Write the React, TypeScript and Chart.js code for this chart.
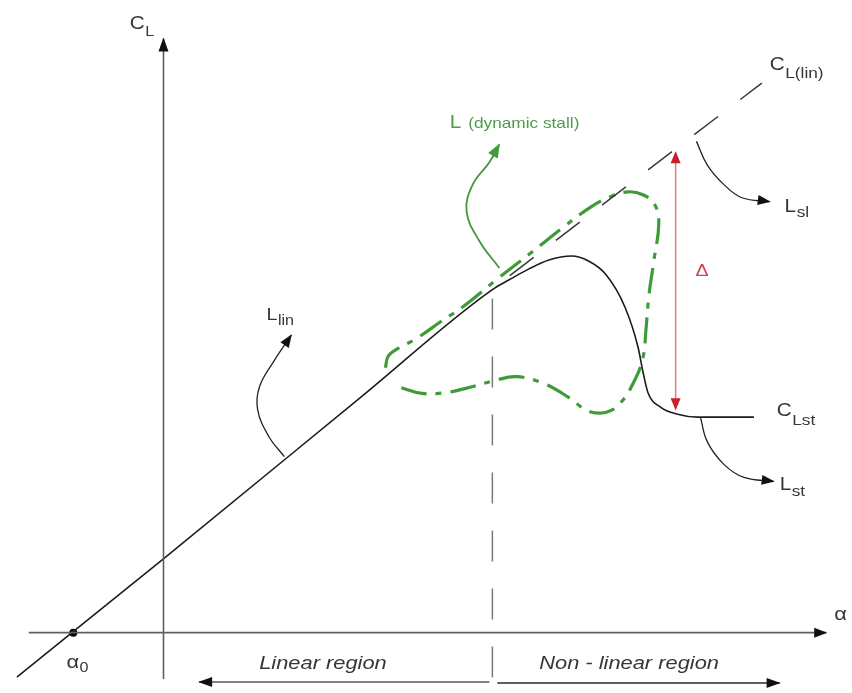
import { useEffect, useRef } from 'react';
import { Chart, registerables } from 'chart.js';

Chart.register(...registerables);

// ---- Diagram data (alpha = angle of attack, CL = lift coefficient, arbitrary units) ----
const xAxisAlpha = [-13.5, 67];
const xAxisCL = [0, 0];
const yAxisAlpha = [0.1, 0.1];
const yAxisCL = [-4.7, 60.1];

// zero-lift angle
const alphaZero = -9;

// static lift curve: linear part, then stall
const liftAlpha = [-14.7, 0, 20, 33.3, 35, 37, 39, 41.3, 43, 44.7, 46.7, 48, 48.5, 49, 50.3, 52, 54, 59.7];
const liftCL = [-4.5, 7.4, 23.8, 34.7, 35.7, 36.8, 37.7, 38.1, 37.6, 36.3, 32.9, 28.9, 26.4, 24.3, 22.8, 22.1, 21.8, 21.8];

// extrapolated linear lift C_L(lin)
const linExtAlpha = [34.5, 60.5];
const linExtCL = [35.7, 55.6];

// boundary between linear and non-linear regions
const dividerAlpha = [33.3, 33.3];
const dividerCL = [33.8, -4.7];

// dynamic stall hysteresis loop
const stallAlpha = [22.5, 22.8, 23.7, 25.7, 28.0, 30.5, 33.7, 37.3, 40.3, 43.3, 45.2, 47.0, 48.5, 49.7, 50.1, 49.6, 49.1, 48.8, 48.5, 47.6, 46.2, 44.8, 43.0, 41.0, 38.5, 35.7, 33.5, 31.3, 28.7, 26.2, 24.0];
const stallCL = [26.8, 28.0, 28.7, 29.8, 31.4, 33.1, 35.7, 38.5, 40.9, 43.1, 44.1, 44.6, 44.3, 43.3, 41.4, 37.6, 34.1, 30.6, 27.8, 25.4, 23.2, 22.3, 22.4, 23.8, 25.2, 25.9, 25.5, 24.9, 24.3, 24.2, 24.8];

// lift deficit Δ between C_L(lin) and C_Lst
const deltaAlpha = [51.8, 51.8];
const deltaCL = [22.6, 48.6];

// leader arrows
const linLeaderAlpha = [12.3, 10.7, 9.6, 9.8, 11.2, 13.0];
const linLeaderCL = [17.8, 19.9, 22.6, 24.9, 27.4, 30.1];
const slLeaderAlpha = [53.9, 55.0, 56.7, 58.5, 61.3];
const slLeaderCL = [49.7, 47.3, 45.3, 44.0, 43.6];
const stLeaderAlpha = [54.3, 55.0, 56.7, 58.7, 61.7];
const stLeaderCL = [21.8, 19.3, 17.0, 15.7, 15.3];
const dynLeaderAlpha = [34.0, 32.0, 30.7, 31.3, 33.0, 34.0];
const dynLeaderCL = [36.9, 39.6, 42.6, 45.3, 47.6, 49.4];

// region arrows under the axis
const linearRegionAlpha = [33, 3.7];
const linearRegionCL = [-5.0, -5.0];
const nonLinearRegionAlpha = [33.8, 62.3];
const nonLinearRegionCL = [-5.1, -5.1];

const FONT = '"Liberation Sans", Arial, Helvetica, sans-serif';
const INK = '#363636';
const GREEN = '#3f9b37';
// glyphs are drawn slightly wide
const TEXT_STRETCH = 1.15;

type Label = {
  text: string;
  sub?: string;
  alpha: number;
  cl: number;
  size: number;
  subSize?: number;
  subDrop?: number;
  subGap?: number;
  color?: string;
  italic?: boolean;
  center?: boolean;
};

const labels: Label[] = [
  { text: 'C', sub: 'L', alpha: -3.3, cl: 61.1, size: 18, subSize: 14, subDrop: 7 },
  { text: 'α', alpha: 67.8, cl: 1.3, size: 19 },
  { text: 'α', sub: '0', alpha: -9.7, cl: -3.6, size: 19, subSize: 14, subDrop: 4 },
  { text: 'Linear region', alpha: 16.2, cl: -3.7, size: 19, italic: true, center: true },
  { text: 'Non - linear region', alpha: 47.1, cl: -3.7, size: 19, italic: true, center: true },
  { text: 'L', sub: '(dynamic stall)', alpha: 29, cl: 51.1, size: 18, subSize: 15, subDrop: 0, subGap: 6, color: '#4c9e46' },
  { text: 'L', sub: 'lin', alpha: 10.5, cl: 31.6, size: 17, subSize: 14, subDrop: 5 },
  { text: 'C', sub: 'L(lin)', alpha: 61.3, cl: 56.9, size: 18, subSize: 15, subDrop: 8 },
  { text: 'L', sub: 'sl', alpha: 62.8, cl: 42.6, size: 18, subSize: 15, subDrop: 5 },
  { text: 'C', sub: 'Lst', alpha: 62.0, cl: 21.9, size: 18, subSize: 15, subDrop: 9 },
  { text: 'L', sub: 'st', alpha: 62.3, cl: 14.4, size: 18, subSize: 15, subDrop: 6 },
  { text: 'Δ', alpha: 53.8, cl: 36.1, size: 17, color: '#d0454f' },
];

const pts = (xs: number[], ys: number[]) => xs.map((x, i) => ({ x, y: ys[i] }));

type ArrowSpec = { start?: boolean; end?: boolean; color: string; len: number; half: number };

const line = (
  xs: number[],
  ys: number[],
  color: string,
  width: number,
  extra: Record<string, unknown> = {}
) => ({
  data: pts(xs, ys),
  showLine: true,
  borderColor: color,
  backgroundColor: color,
  borderWidth: width,
  pointRadius: 0,
  pointHoverRadius: 0,
  fill: false,
  ...extra,
});

function drawHead(ctx: CanvasRenderingContext2D, tip: any, from: any, a: ArrowSpec) {
  const ang = Math.atan2(tip.y - from.y, tip.x - from.x);
  ctx.save();
  ctx.translate(tip.x, tip.y);
  ctx.rotate(ang);
  ctx.beginPath();
  ctx.moveTo(1, 0);
  ctx.lineTo(-a.len, a.half);
  ctx.lineTo(-a.len, -a.half);
  ctx.closePath();
  ctx.fillStyle = a.color;
  ctx.fill();
  ctx.restore();
}

const decorations = {
  id: 'decorations',
  afterDatasetsDraw(chart: any) {
    const ctx: CanvasRenderingContext2D = chart.ctx;
    chart.data.datasets.forEach((ds: any, i: number) => {
      const a: ArrowSpec | undefined = ds.arrows;
      if (!a) return;
      const els = chart.getDatasetMeta(i).data;
      const n = els.length;
      if (a.end) drawHead(ctx, els[n - 1], els[n - 2], a);
      if (a.start) drawHead(ctx, els[0], els[1], a);
    });

    const xs = chart.scales.x;
    const ys = chart.scales.y;
    labels.forEach((l) => {
      const px = xs.getPixelForValue(l.alpha);
      const py = ys.getPixelForValue(l.cl);
      const style = l.italic ? 'italic ' : '';
      ctx.save();
      ctx.textBaseline = 'alphabetic';
      ctx.textAlign = 'left';
      ctx.fillStyle = l.color || INK;
      ctx.font = `${style}${l.size}px ${FONT}`;
      const w = ctx.measureText(l.text).width;
      let total = w;
      if (l.sub) {
        ctx.font = `${style}${l.subSize || 12}px ${FONT}`;
        total += (l.subGap ?? 0.5) + ctx.measureText(l.sub).width;
      }
      const left = l.center ? px - (total * TEXT_STRETCH) / 2 : px;
      ctx.translate(left, py);
      ctx.scale(TEXT_STRETCH, 1);
      ctx.font = `${style}${l.size}px ${FONT}`;
      ctx.fillText(l.text, 0, 0);
      if (l.sub) {
        ctx.font = `${style}${l.subSize || 12}px ${FONT}`;
        ctx.fillText(l.sub, w + (l.subGap ?? 0.5), l.subDrop ?? 5);
      }
      ctx.restore();
    });
  },
};

export default function App() {
  const ref = useRef<HTMLCanvasElement | null>(null);

  useEffect(() => {
    if (!ref.current) return;
    const blackArrow: ArrowSpec = { end: true, color: '#111111', len: 12, half: 5 };

    const chart = new Chart(ref.current, {
      type: 'scatter',
      data: {
        datasets: [
          line(xAxisAlpha, xAxisCL, '#5f5f5f', 1.6, { arrows: { end: true, color: '#111111', len: 12, half: 5 } }),
          line(yAxisAlpha, yAxisCL, '#5f5f5f', 1.6, { arrows: { end: true, color: '#111111', len: 13, half: 5 } }),
          line(dividerAlpha, dividerCL, '#7a7a7a', 1.5, { borderDash: [31, 27] }),
          line(linExtAlpha, linExtCL, '#3a3a3a', 1.5, { borderDash: [30, 28], borderDashOffset: 51 }),
          line(liftAlpha, liftCL, '#1c1c1c', 1.6, { cubicInterpolationMode: 'monotone' }),
          line(stallAlpha, stallCL, GREEN, 3.2, { tension: 0.4, borderDash: [26, 9, 6, 9], borderCapStyle: 'butt' }),
          line(deltaAlpha, deltaCL, '#e37b7e', 1.5, { arrows: { start: true, end: true, color: '#c8202a', len: 11, half: 5 } }),
          line(linLeaderAlpha, linLeaderCL, '#222222', 1.3, { tension: 0.4, arrows: blackArrow }),
          line(slLeaderAlpha, slLeaderCL, '#222222', 1.3, { tension: 0.4, arrows: blackArrow }),
          line(stLeaderAlpha, stLeaderCL, '#222222', 1.3, { tension: 0.4, arrows: blackArrow }),
          line(dynLeaderAlpha, dynLeaderCL, GREEN, 1.8, { tension: 0.4, arrows: { end: true, color: GREEN, len: 13, half: 5.5 } }),
          line(linearRegionAlpha, linearRegionCL, '#5a5a5a', 1.5, { arrows: { end: true, color: '#111111', len: 13, half: 5 } }),
          line(nonLinearRegionAlpha, nonLinearRegionCL, '#2a2a2a', 1.5, { arrows: { end: true, color: '#111111', len: 13, half: 5 } }),
          {
            data: [{ x: alphaZero, y: 0 }],
            pointRadius: 4,
            pointBackgroundColor: '#000000',
            pointBorderWidth: 0,
            showLine: false,
          },
        ],
      },
      options: {
        animation: false,
        responsive: false,
        maintainAspectRatio: false,
        devicePixelRatio: 1,
        layout: { padding: 0 },
        events: [],
        plugins: { legend: { display: false }, tooltip: { enabled: false }, title: { display: false } },
        scales: {
          x: { type: 'linear', min: -16, max: 69.2, display: false },
          y: { type: 'linear', min: -5.7, max: 63.6, display: false },
        },
      },
      plugins: [decorations],
    } as any);

    return () => chart.destroy();
  }, []);

  return (
    <div style={{ position: 'absolute', left: 0, top: 0, width: 852, height: 693, background: '#ffffff' }}>
      <canvas ref={ref} width={852} height={693} />
    </div>
  );
}
